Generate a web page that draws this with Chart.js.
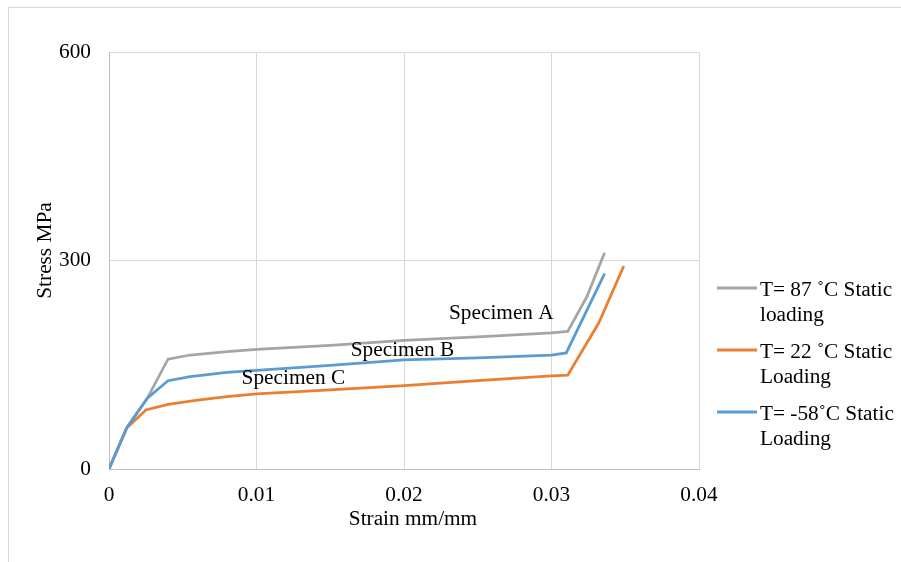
<!DOCTYPE html>
<html>
<head>
<meta charset="utf-8">
<script src="https://cdn.jsdelivr.net/npm/chart.js@4.4.1/dist/chart.umd.min.js"></script>
<style>
  html, body { margin: 0; padding: 0; background: #fff; }
  #wrap { width: 901px; height: 562px; position: relative; }
</style>
</head>
<body>
<div id="wrap"><canvas id="curvas" width="901" height="562"></canvas></div>
<script>
const FONT = '"Liberation Serif", "Times New Roman", serif';
const SIZE = 21.3;

// T = 87 C
const strainA = [0, 0.0012, 0.0026, 0.0040, 0.0055, 0.008, 0.010, 0.015, 0.020, 0.025, 0.030, 0.0311, 0.0324, 0.0336];
const stressA = [0, 59, 102, 158, 164, 169, 172, 178, 185, 190, 196, 198, 248, 311];

// T = 22 C
const strainC = [0, 0.0012, 0.0025, 0.0040, 0.0060, 0.008, 0.010, 0.015, 0.020, 0.025, 0.030, 0.0311, 0.0332, 0.0349];
const stressC = [0, 59, 85, 93, 99, 104, 108, 114, 120, 127, 134, 135, 210, 292];

// T = -58 C
const strainB = [0, 0.0012, 0.0026, 0.0040, 0.0055, 0.008, 0.010, 0.015, 0.020, 0.025, 0.030, 0.0310, 0.0336];
const stressB = [0, 59, 102, 127, 133, 139, 142, 149, 157, 160, 164, 167, 281];

const seriesNames = [
  ["T= 87 \u02DAC Static", "loading"],
  ["T= 22 \u02DAC Static", "Loading"],
  ["T= -58\u02DAC Static", "Loading"],
];
const seriesColors = ["#A5A5A5", "#ED7D31", "#5B9BD5"];

const xTicks = [0, 0.01, 0.02, 0.03, 0.04];
const yTicks = [0, 300, 600];

const xTitle = "Strain mm/mm";
const yTitle = "Stress MPa";

// etiquetas sobre las curvas (posicion en unidades de datos)
const notes = [
  { text: "Specimen A", x: 0.0266, y: 224 },
  { text: "Specimen B", x: 0.0199, y: 171 },
  { text: "Specimen C", x: 0.0125, y: 131 },
];

const toPoints = (xs, ys) => xs.map((x, i) => ({ x: x, y: ys[i] }));

const datos = [toPoints(strainA, stressA), toPoints(strainC, stressC), toPoints(strainB, stressB)];

const marco = {
  id: "marco",
  beforeDraw(chart) {
    const ctx = chart.ctx;
    ctx.save();
    ctx.fillStyle = "#fff";
    ctx.fillRect(0, 0, chart.width, chart.height);
    ctx.strokeStyle = "#D9D9D9";
    ctx.lineWidth = 1;
    ctx.beginPath();
    ctx.moveTo(8.5, chart.height);
    ctx.lineTo(8.5, 7.5);
    ctx.lineTo(chart.width, 7.5);
    ctx.stroke();
    ctx.restore();
  },
};

// textos: notas de las curvas y titulos de los ejes
const notas = {
  id: "notas",
  afterDatasetsDraw(chart) {
    const ctx = chart.ctx;
    const sx = chart.scales.x, sy = chart.scales.y;
    ctx.save();
    ctx.font = SIZE + "px " + FONT;
    ctx.fillStyle = "#000";
    ctx.textAlign = "center";
    ctx.textBaseline = "middle";
    notes.forEach((n) => ctx.fillText(n.text, sx.getPixelForValue(n.x), sy.getPixelForValue(n.y)));

    ctx.fillText(xTitle, (sx.left + sx.right) / 2 + 9, 519);
    ctx.translate(45, (sy.top + sy.bottom) / 2 - 10);
    ctx.rotate(-Math.PI / 2);
    ctx.fillText(yTitle, 0, 0);
    ctx.restore();
  },
};

const leyenda = {
  id: "leyenda",
  afterDraw(chart) {
    const ctx = chart.ctx;
    ctx.save();
    ctx.font = SIZE + "px " + FONT;
    ctx.textAlign = "left";
    ctx.textBaseline = "middle";
    chart.data.datasets.forEach((ds, i) => {
      const y0 = 288 + i * 62;
      ctx.strokeStyle = ds.borderColor;
      ctx.lineWidth = 3;
      ctx.beginPath();
      ctx.moveTo(717, y0);
      ctx.lineTo(757, y0);
      ctx.stroke();
      ctx.fillStyle = "#000";
      ds.label.forEach((line, k) => ctx.fillText(line, 760, y0 + 2 + k * 25));
    });
    ctx.restore();
  },
};

new Chart(document.getElementById("curvas"), {
  type: "scatter",
  data: {
    datasets: datos.map((d, i) => ({
      label: seriesNames[i],
      data: d,
      showLine: true,
      borderColor: seriesColors[i],
      backgroundColor: seriesColors[i],
      borderWidth: 2.75,
      pointRadius: 0,
      tension: 0,
      order: 3 - i,
    })),
  },
  options: {
    responsive: false,
    animation: false,
    devicePixelRatio: 1,
    layout: { padding: { left: 0, top: 52, right: 202, bottom: 0 } },
    plugins: {
      legend: { display: false },
      tooltip: { enabled: false },
    },
    scales: {
      x: {
        type: "linear",
        min: 0,
        max: 0.04,
        afterBuildTicks: (s) => { s.ticks = xTicks.map((v) => ({ value: v })); },
        afterFit: (s) => { s.height = 93; },
        grid: { color: "#D9D9D9", drawTicks: false },
        border: { color: "#BFBFBF", width: 1 },
        ticks: {
          padding: 14,
          color: "#000",
          font: { family: FONT, size: SIZE },
          callback: (v) => String(v),
        },
      },
      y: {
        min: 0,
        max: 600,
        afterBuildTicks: (s) => { s.ticks = yTicks.map((v) => ({ value: v })); },
        afterFit: (s) => { s.width = 109; },
        grid: { color: "#D9D9D9", drawTicks: false },
        border: { color: "#BFBFBF", width: 1 },
        ticks: {
          padding: 18,
          color: "#000",
          font: { family: FONT, size: SIZE },
        },
      },
    },
  },
  plugins: [marco, notas, leyenda],
});
</script>
</body>
</html>
